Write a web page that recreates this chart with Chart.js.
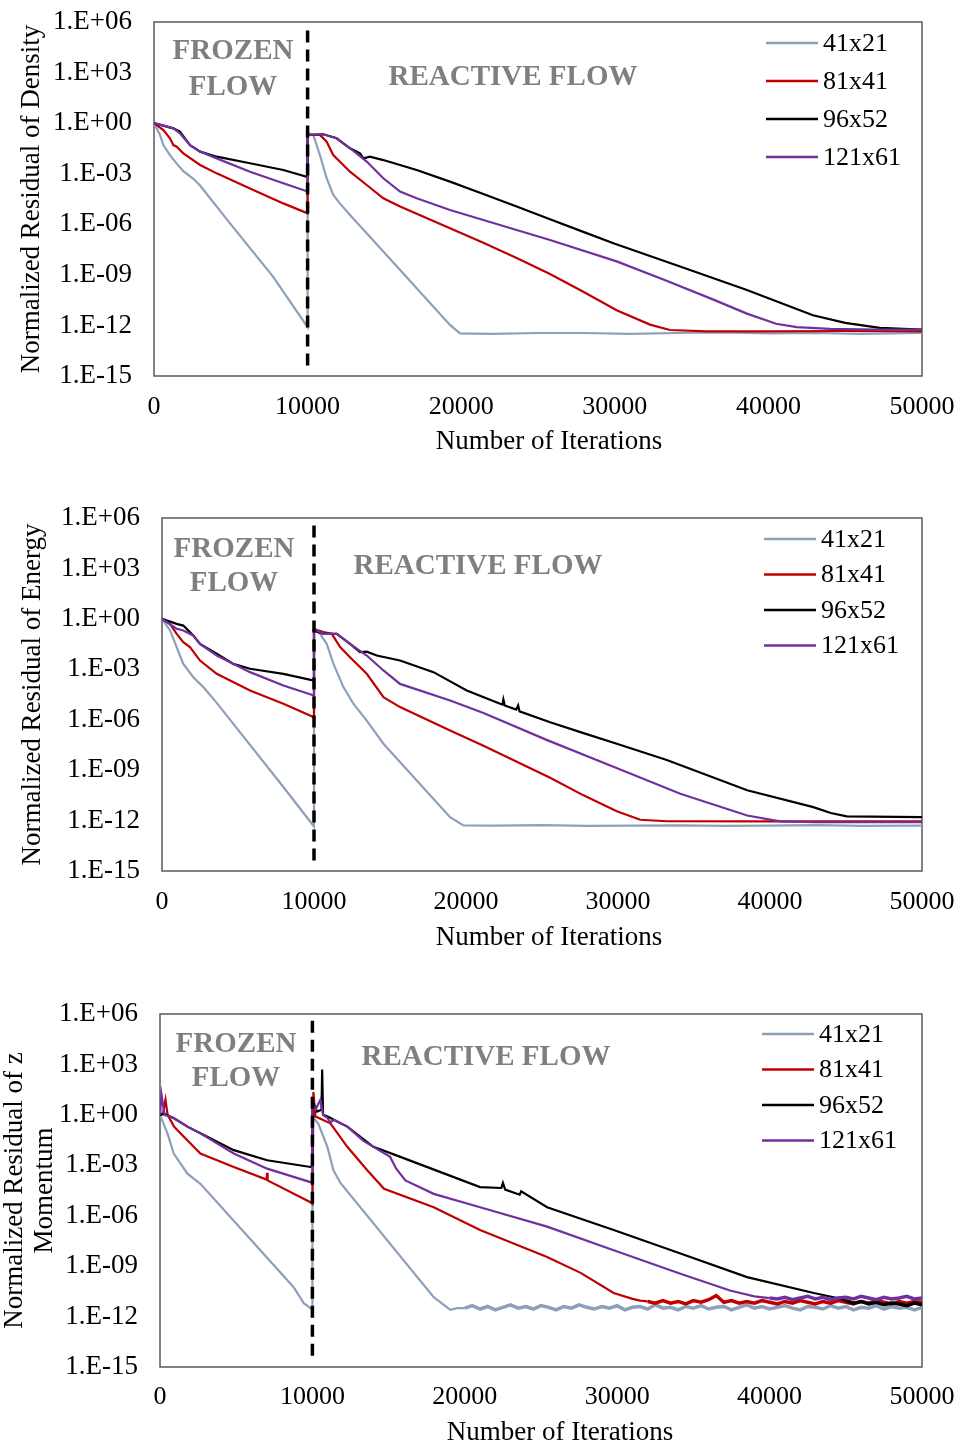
<!DOCTYPE html>
<html><head><meta charset="utf-8">
<script src="https://cdn.jsdelivr.net/npm/chart.js@4.4.1/dist/chart.umd.min.js"></script>
<style>
html,body{margin:0;padding:0;background:#fff;overflow:hidden;width:964px;height:1450px}
canvas{position:absolute;left:0}
</style></head><body>
<canvas id="c1" width="964" height="470" style="top:0px"></canvas>
<canvas id="c2" width="964" height="470" style="top:490px"></canvas>
<canvas id="c3" width="964" height="465" style="top:985px"></canvas>
<script>
// ---------- shared labels ----------
const seriesNames = ['41x21', '81x41', '96x52', '121x61'];
const seriesColors = ['#8DA0BA', '#C00000', '#000000', '#7030A0'];
const iterTicks = [0, 10000, 20000, 30000, 40000, 50000];
const logTickExponents = [6, 3, 0, -3, -6, -9, -12, -15];
const switchIteration = 10000;
const xTitle = 'Number of Iterations';

// ---------- Density (iterations, log10 residual) ----------
const dens41_x   = [0, 390, 610, 1040, 1480, 1910, 2560, 3000, 4950, 7750, 10000, 10000, 10370, 10800, 11240, 11670, 12100, 12760, 14930, 17100, 19270, 19920, 22000, 25000, 28000, 31000, 34000, 37000, 40000, 43000, 46000, 50000];
const dens41_log = [0, -0.7, -1.3, -1.9, -2.4, -2.85, -3.3, -3.7, -5.95, -9.1, -12.1, -0.6, -0.7, -1.89, -3.27, -4.26, -4.76, -5.45, -7.62, -9.8, -11.97, -12.47, -12.5, -12.45, -12.45, -12.5, -12.45, -12.42, -12.47, -12.45, -12.5, -12.45];
const dens81_x   = [0, 610, 1040, 1260, 1480, 1910, 3000, 4080, 6250, 8420, 10000, 10000, 10800, 11240, 11670, 12760, 13850, 14930, 16020, 19270, 21440, 23610, 25780, 27950, 30120, 32290, 33590, 36000, 40000, 45000, 50000];
const dens81_log = [0, -0.41, -0.9, -1.3, -1.4, -1.79, -2.48, -2.98, -3.87, -4.76, -5.35, -0.7, -0.7, -1.1, -1.89, -2.88, -3.67, -4.46, -4.95, -6.24, -7.1, -8.0, -8.95, -10.0, -11.1, -11.95, -12.27, -12.35, -12.35, -12.33, -12.35];
const dens96_x   = [0, 1260, 1690, 2340, 3000, 4080, 6250, 8420, 10000, 10000, 11020, 11890, 12760, 13410, 13630, 14060, 14930, 17100, 19270, 21440, 23610, 25780, 27950, 30000, 34250, 38600, 42900, 45000, 47250, 50000];
const dens96_log = [0, -0.31, -0.5, -1.3, -1.69, -1.99, -2.38, -2.78, -3.2, -0.7, -0.66, -0.9, -1.49, -1.79, -2.09, -1.99, -2.19, -2.78, -3.47, -4.2, -4.95, -5.7, -6.45, -7.15, -8.5, -9.9, -11.4, -11.85, -12.15, -12.25];
const dens121_x   = [0, 1260, 1690, 2340, 3000, 4080, 6250, 8420, 10000, 10000, 11020, 11890, 12760, 13850, 14930, 16020, 17100, 19270, 21440, 25780, 30120, 33370, 36500, 38600, 40500, 41850, 44000, 47000, 50000];
const dens121_log = [0, -0.31, -0.6, -1.3, -1.69, -2.09, -2.88, -3.57, -4.06, -0.7, -0.66, -0.9, -1.49, -2.28, -3.27, -4.06, -4.46, -5.15, -5.75, -6.93, -8.2, -9.35, -10.5, -11.3, -11.9, -12.1, -12.2, -12.25, -12.25];

// ---------- Energy ----------
const ener41_x   = [0, 530, 965, 1400, 2060, 2720, 3600, 5790, 7985, 10000, 10000, 10400, 10840, 11280, 11935, 12590, 13470, 14570, 16760, 18955, 19830, 22000, 25000, 28000, 31000, 34000, 37000, 40000, 43000, 46000, 50000];
const ener41_log = [0, -0.69, -1.68, -2.68, -3.47, -4.06, -5.0, -7.5, -10.0, -12.35, -0.6, -0.89, -1.49, -2.68, -4.06, -5.05, -6.05, -7.43, -9.62, -11.8, -12.29, -12.3, -12.27, -12.32, -12.3, -12.28, -12.32, -12.3, -12.27, -12.32, -12.3];
const ener81_x   = [0, 526, 965, 1400, 1840, 2500, 3600, 5790, 7985, 10000, 10000, 10620, 11170, 11720, 12370, 13470, 14570, 15660, 18955, 21150, 23340, 25535, 27730, 29920, 31460, 33200, 40000, 50000];
const ener81_log = [0, -0.3, -0.89, -1.39, -1.68, -2.48, -3.27, -4.26, -5.05, -5.85, -0.6, -0.79, -0.89, -1.68, -2.28, -3.27, -4.66, -5.25, -6.64, -7.55, -8.5, -9.45, -10.5, -11.45, -11.95, -12.04, -12.05, -12.05];
const ener96_x   = [0, 965, 1400, 2060, 2500, 3600, 4690, 5790, 7985, 10000, 10000, 10620, 11500, 12370, 13030, 13470, 14130, 15660, 17860, 20050, 22245, 22400, 22460, 22550, 23300, 23430, 23520, 25535, 27730, 29920, 33210, 38500, 42850, 44000, 45050, 50000];
const ener96_log = [0, -0.3, -0.4, -0.99, -1.49, -2.08, -2.68, -2.97, -3.27, -3.67, -0.7, -0.89, -0.89, -1.49, -1.98, -1.95, -2.18, -2.48, -3.17, -4.26, -5.05, -5.1, -4.8, -5.15, -5.4, -5.15, -5.5, -6.15, -6.8, -7.43, -8.4, -10.2, -11.2, -11.55, -11.75, -11.8];
const ener121_x   = [0, 965, 1400, 2060, 2500, 3600, 5790, 7985, 10000, 10000, 10620, 11500, 12370, 13470, 14570, 15660, 18955, 21150, 25300, 29700, 34100, 38500, 40650, 43000, 50000];
const ener121_log = [0, -0.59, -0.69, -0.99, -1.49, -2.18, -3.17, -3.96, -4.56, -0.6, -0.89, -0.89, -1.49, -2.18, -3.07, -3.87, -4.86, -5.6, -7.2, -8.8, -10.4, -11.7, -12.05, -12.1, -12.1];

// ---------- z Momentum ----------
const zmom41_x   = [0, 490, 900, 1800, 2650, 8770, 9430, 9870, 10000, 10000, 10400, 10980, 11380, 11840, 17960, 19050, 19500];
const zmom41_log = [0, -1.1, -2.3, -3.5, -4.1, -10.25, -11.2, -11.5, -11.6, -0.1, -0.55, -1.9, -3.3, -4.05, -10.85, -11.6, -11.5];
const zmom41_noiseStart = 20000;
const zmom41_noise = [-11.5, -11.35, -11.55, -11.4, -11.6, -11.45, -11.3, -11.5, -11.4, -11.55,
  -11.35, -11.45, -11.6, -11.4, -11.5, -11.3, -11.45, -11.55, -11.4, -11.5,
  -11.35, -11.6, -11.45, -11.4, -11.55, -11.3, -11.5, -11.45, -11.6, -11.4,
  -11.5, -11.35, -11.55, -11.45, -11.4, -11.6, -11.45, -11.3, -11.5, -11.4,
  -11.55, -11.45, -11.35, -11.5, -11.6, -11.4, -11.45, -11.55, -11.35, -11.5,
  -11.4, -11.6, -11.45, -11.5, -11.35, -11.55, -11.4, -11.5, -11.45, -11.6, -11.45];
const zmom81_x   = [0, 200, 360, 500, 920, 1340, 2650, 4840, 7000, 7030, 7060, 9870, 10000, 10000, 10066, 10200, 11180, 12290, 13600, 14700, 17960, 21000, 25400, 27600, 29770, 31000, 31500];
const zmom81_log = [0, 0.1, 0.9, 0.0, -0.7, -1.1, -2.3, -3.1, -3.85, -3.45, -3.9, -5.2, -5.3, -5.3, 1.36, -0.1, -0.5, -1.9, -3.3, -4.4, -5.5, -6.85, -8.45, -9.4, -10.6, -10.95, -11.05];
const zmom81_noiseStart = 32000;
const zmom81_noise = [-11.1, -11.2, -11.05, -11.2, -11.1, -11.25, -11.05, -11.15, -11.0, -10.75,
  -11.15, -11.05, -11.2, -11.1, -11.2, -11.05, -11.15, -11.25, -11.1, -11.2,
  -11.05, -11.15, -11.25, -11.1, -11.2, -11.05, -11.15, -11.25, -11.1, -11.2,
  -11.05, -11.15, -11.25, -11.1, -11.2, -11.1, -11.15];
const zmom96_x   = [0, 300, 920, 1800, 2650, 4840, 7030, 9870, 10000, 10000, 10300, 10600, 10640, 10700, 11000, 12290, 14000, 15770, 21000, 22400, 22500, 22650, 23600, 23700, 25400, 29770, 34150, 38520, 42900, 44200, 44700];
const zmom96_log = [0, 0.05, -0.2, -0.7, -1.1, -2.1, -2.7, -3.1, -3.05, 0.8, 0.2, 0.3, 2.7, 0.0, -0.1, -0.7, -1.9, -2.5, -4.3, -4.35, -4.05, -4.45, -4.75, -4.55, -5.5, -6.85, -8.25, -9.65, -10.6, -10.85, -10.95];
const zmom96_noiseStart = 45000;
const zmom96_noise = [-11.05, -11.2, -11.1, -11.25, -11.15, -11.3, -11.2, -11.25, -11.35, -11.2, -11.3];
const zmom121_x   = [0, 100, 300, 920, 1800, 2650, 4840, 7030, 9870, 10000, 10000, 10200, 10525, 10700, 11000, 11180, 11400, 12290, 13350, 15100, 15500, 16100, 17960, 21000, 25400, 29770, 34150, 37400, 39000];
const zmom121_log = [0, 1.2, 0.0, -0.2, -0.7, -1.1, -2.3, -3.2, -4.0, -4.05, 0.6, 0.3, 0.9, 0.0, -0.2, -0.45, -0.3, -0.7, -1.55, -2.5, -3.2, -3.9, -4.7, -5.5, -6.65, -8.05, -9.45, -10.45, -10.8];
const zmom121_noiseStart = 40000;
const zmom121_noise = [-10.9, -10.95, -10.85, -11.0, -10.9, -10.8, -10.95, -10.85, -11.0, -10.9,
  -10.85, -10.95, -10.8, -10.9, -11.0, -10.85, -10.95, -10.9, -10.8, -10.95, -10.9];
const noiseStep = 500;

// dashed separator extent (log10)
const dashTopLog = [5.5, 5.55, 5.6];
const dashBottomLog = -14.5;

function pts(xs, logs, noise, start) {
  const out = xs.map((x, i) => ({x: x, y: Math.pow(10, logs[i])}));
  if (noise) noise.forEach((v, i) => out.push({x: start + i * noiseStep, y: Math.pow(10, v)}));
  return out;
}

function fmtE(v) {
  const e = Math.round(Math.log10(v));
  const s = e < 0 ? '-' : '+';
  const a = Math.abs(e);
  return '1.E' + s + (a < 10 ? '0' : '') + a;
}

const SERIF = '"Liberation Serif", "Times New Roman", serif';

const overlayPlugin = {
  id: 'overlay',
  beforeDatasetsDraw(chart) {
    const a = chart.chartArea, ctx = chart.ctx;
    ctx.save();
    ctx.strokeStyle = '#595959';
    ctx.lineWidth = 1.5;
    ctx.strokeRect(a.left, a.top, a.right - a.left, a.bottom - a.top);
    ctx.restore();
  },
  afterDraw(chart) {
    const o = chart.options.plugins.overlay, ctx = chart.ctx;
    ctx.save();
    ctx.textBaseline = 'middle';
    ctx.fillStyle = '#000';
    ctx.font = '27px ' + SERIF;
    ctx.textAlign = 'center';
    ctx.fillText(xTitle, o.xTitle.x, o.xTitle.y);
    ctx.fillStyle = '#7F7F7F';
    ctx.font = 'bold 29px ' + SERIF;
    o.texts.forEach(t => ctx.fillText(t.text, t.x, t.y));
    ctx.font = '26px ' + SERIF;
    ctx.textAlign = 'left';
    seriesNames.forEach((n, i) => {
      const y = o.legend.y0 + i * o.legend.dy;
      ctx.strokeStyle = seriesColors[i];
      ctx.lineWidth = 2.5;
      ctx.beginPath();
      ctx.moveTo(o.legend.x, y);
      ctx.lineTo(o.legend.x + 52, y);
      ctx.stroke();
      ctx.fillStyle = '#000';
      ctx.fillText(n, o.legend.x + 57, y + 1);
    });
    ctx.restore();
  }
};

function build(id, cfg) {
  const series = cfg.series;
  const datasets = [{
    label: 'sep',
    data: [{x: switchIteration, y: Math.pow(10, cfg.dashTop)}, {x: switchIteration, y: Math.pow(10, dashBottomLog)}],
    borderColor: '#000', borderWidth: 3.5, borderDash: [12, 7], pointRadius: 0, order: 0
  }];
  series.forEach((d, i) => {
    const ns = cfg.noiseStarts ? cfg.noiseStarts[i] : null;
    datasets.push({
      label: seriesNames[i], data: d, borderColor: seriesColors[i], borderWidth: 2.2,
      pointRadius: 0, tension: 0, order: 4 - i,
      segment: ns === null ? undefined : {borderWidth: c => (c.p0.parsed.x >= ns ? 3.5 : 2.2)}
    });
  });
  const zeroPad = s => { s.paddingTop = 0; s.paddingBottom = 0; s.paddingLeft = 0; s.paddingRight = 0; };
  new Chart(document.getElementById(id), {
    type: 'line',
    data: {datasets: datasets},
    plugins: [overlayPlugin],
    options: {
      responsive: false, animation: false, events: [],
      layout: {padding: {left: 0, top: cfg.top, right: 964 - cfg.right, bottom: 0}},
      plugins: {legend: {display: false}, tooltip: {enabled: false},
        overlay: {texts: cfg.texts, legend: cfg.legend, xTitle: cfg.xTitle}},
      scales: {
        x: {
          type: 'linear', min: 0, max: 50000,
          afterBuildTicks: s => { s.ticks = iterTicks.map(v => ({value: v})); },
          afterFit: s => { s.height = cfg.H - cfg.bottom; zeroPad(s); },
          grid: {display: false, drawTicks: false}, border: {display: false},
          ticks: {autoSkip: false, maxRotation: 0, padding: cfg.xTickPad, color: '#000',
            font: {family: SERIF, size: 26, lineHeight: 1.2}, callback: v => String(v)},
          title: {display: false}
        },
        y: {
          type: 'logarithmic', min: 1e-15, max: 1e6,
          afterBuildTicks: s => { s.ticks = logTickExponents.map(e => ({value: Math.pow(10, e)})); },
          afterFit: s => { s.width = cfg.left; zeroPad(s); },
          grid: {display: false, drawTicks: false}, border: {display: false},
          ticks: {autoSkip: false, padding: 22, color: '#000',
            font: {family: SERIF, size: 27, lineHeight: 1.2}, callback: v => fmtE(v)},
          title: {display: true, text: cfg.yTitle, color: '#000', font: {family: SERIF, size: 27, lineHeight: 1.11},
            padding: {top: cfg.yTitlePad, bottom: 0}}
        }
      }
    }
  });
}

build('c1', {
  H: 470, left: 154, top: 22, right: 922, bottom: 376, xTickPad: 16, yTitlePad: 17,
  yTitle: 'Normalized Residual of Density', dashTop: dashTopLog[0],
  series: [pts(dens41_x, dens41_log), pts(dens81_x, dens81_log), pts(dens96_x, dens96_log), pts(dens121_x, dens121_log)],
  texts: [{text: 'FROZEN', x: 233, y: 52}, {text: 'FLOW', x: 233, y: 88}, {text: 'REACTIVE FLOW', x: 513, y: 78}],
  legend: {x: 766, y0: 43, dy: 38}, xTitle: {x: 549, y: 442}
});
build('c2', {
  H: 470, left: 162, top: 28, right: 922, bottom: 381, xTickPad: 16, yTitlePad: 18,
  yTitle: 'Normalized Residual of Energy', dashTop: dashTopLog[1],
  series: [pts(ener41_x, ener41_log), pts(ener81_x, ener81_log), pts(ener96_x, ener96_log), pts(ener121_x, ener121_log)],
  texts: [{text: 'FROZEN', x: 234, y: 60}, {text: 'FLOW', x: 234, y: 94}, {text: 'REACTIVE FLOW', x: 478, y: 77}],
  legend: {x: 764, y0: 49, dy: 35.5}, xTitle: {x: 549, y: 448}
});
build('c3', {
  H: 465, left: 160, top: 29, right: 922, bottom: 382, xTickPad: 15, yTitlePad: 0,
  yTitle: ['Normalized Residual of z', 'Momentum'], dashTop: dashTopLog[2],
  series: [pts(zmom41_x, zmom41_log, zmom41_noise, zmom41_noiseStart),
           pts(zmom81_x, zmom81_log, zmom81_noise, zmom81_noiseStart),
           pts(zmom96_x, zmom96_log, zmom96_noise, zmom96_noiseStart),
           pts(zmom121_x, zmom121_log, zmom121_noise, zmom121_noiseStart)],
  noiseStarts: [zmom41_noiseStart, zmom81_noiseStart, zmom96_noiseStart, zmom121_noiseStart],
  texts: [{text: 'FROZEN', x: 236, y: 60}, {text: 'FLOW', x: 236, y: 94}, {text: 'REACTIVE FLOW', x: 486, y: 73}],
  legend: {x: 762, y0: 49, dy: 35.5}, xTitle: {x: 560, y: 448}
});
</script>
</body></html>
